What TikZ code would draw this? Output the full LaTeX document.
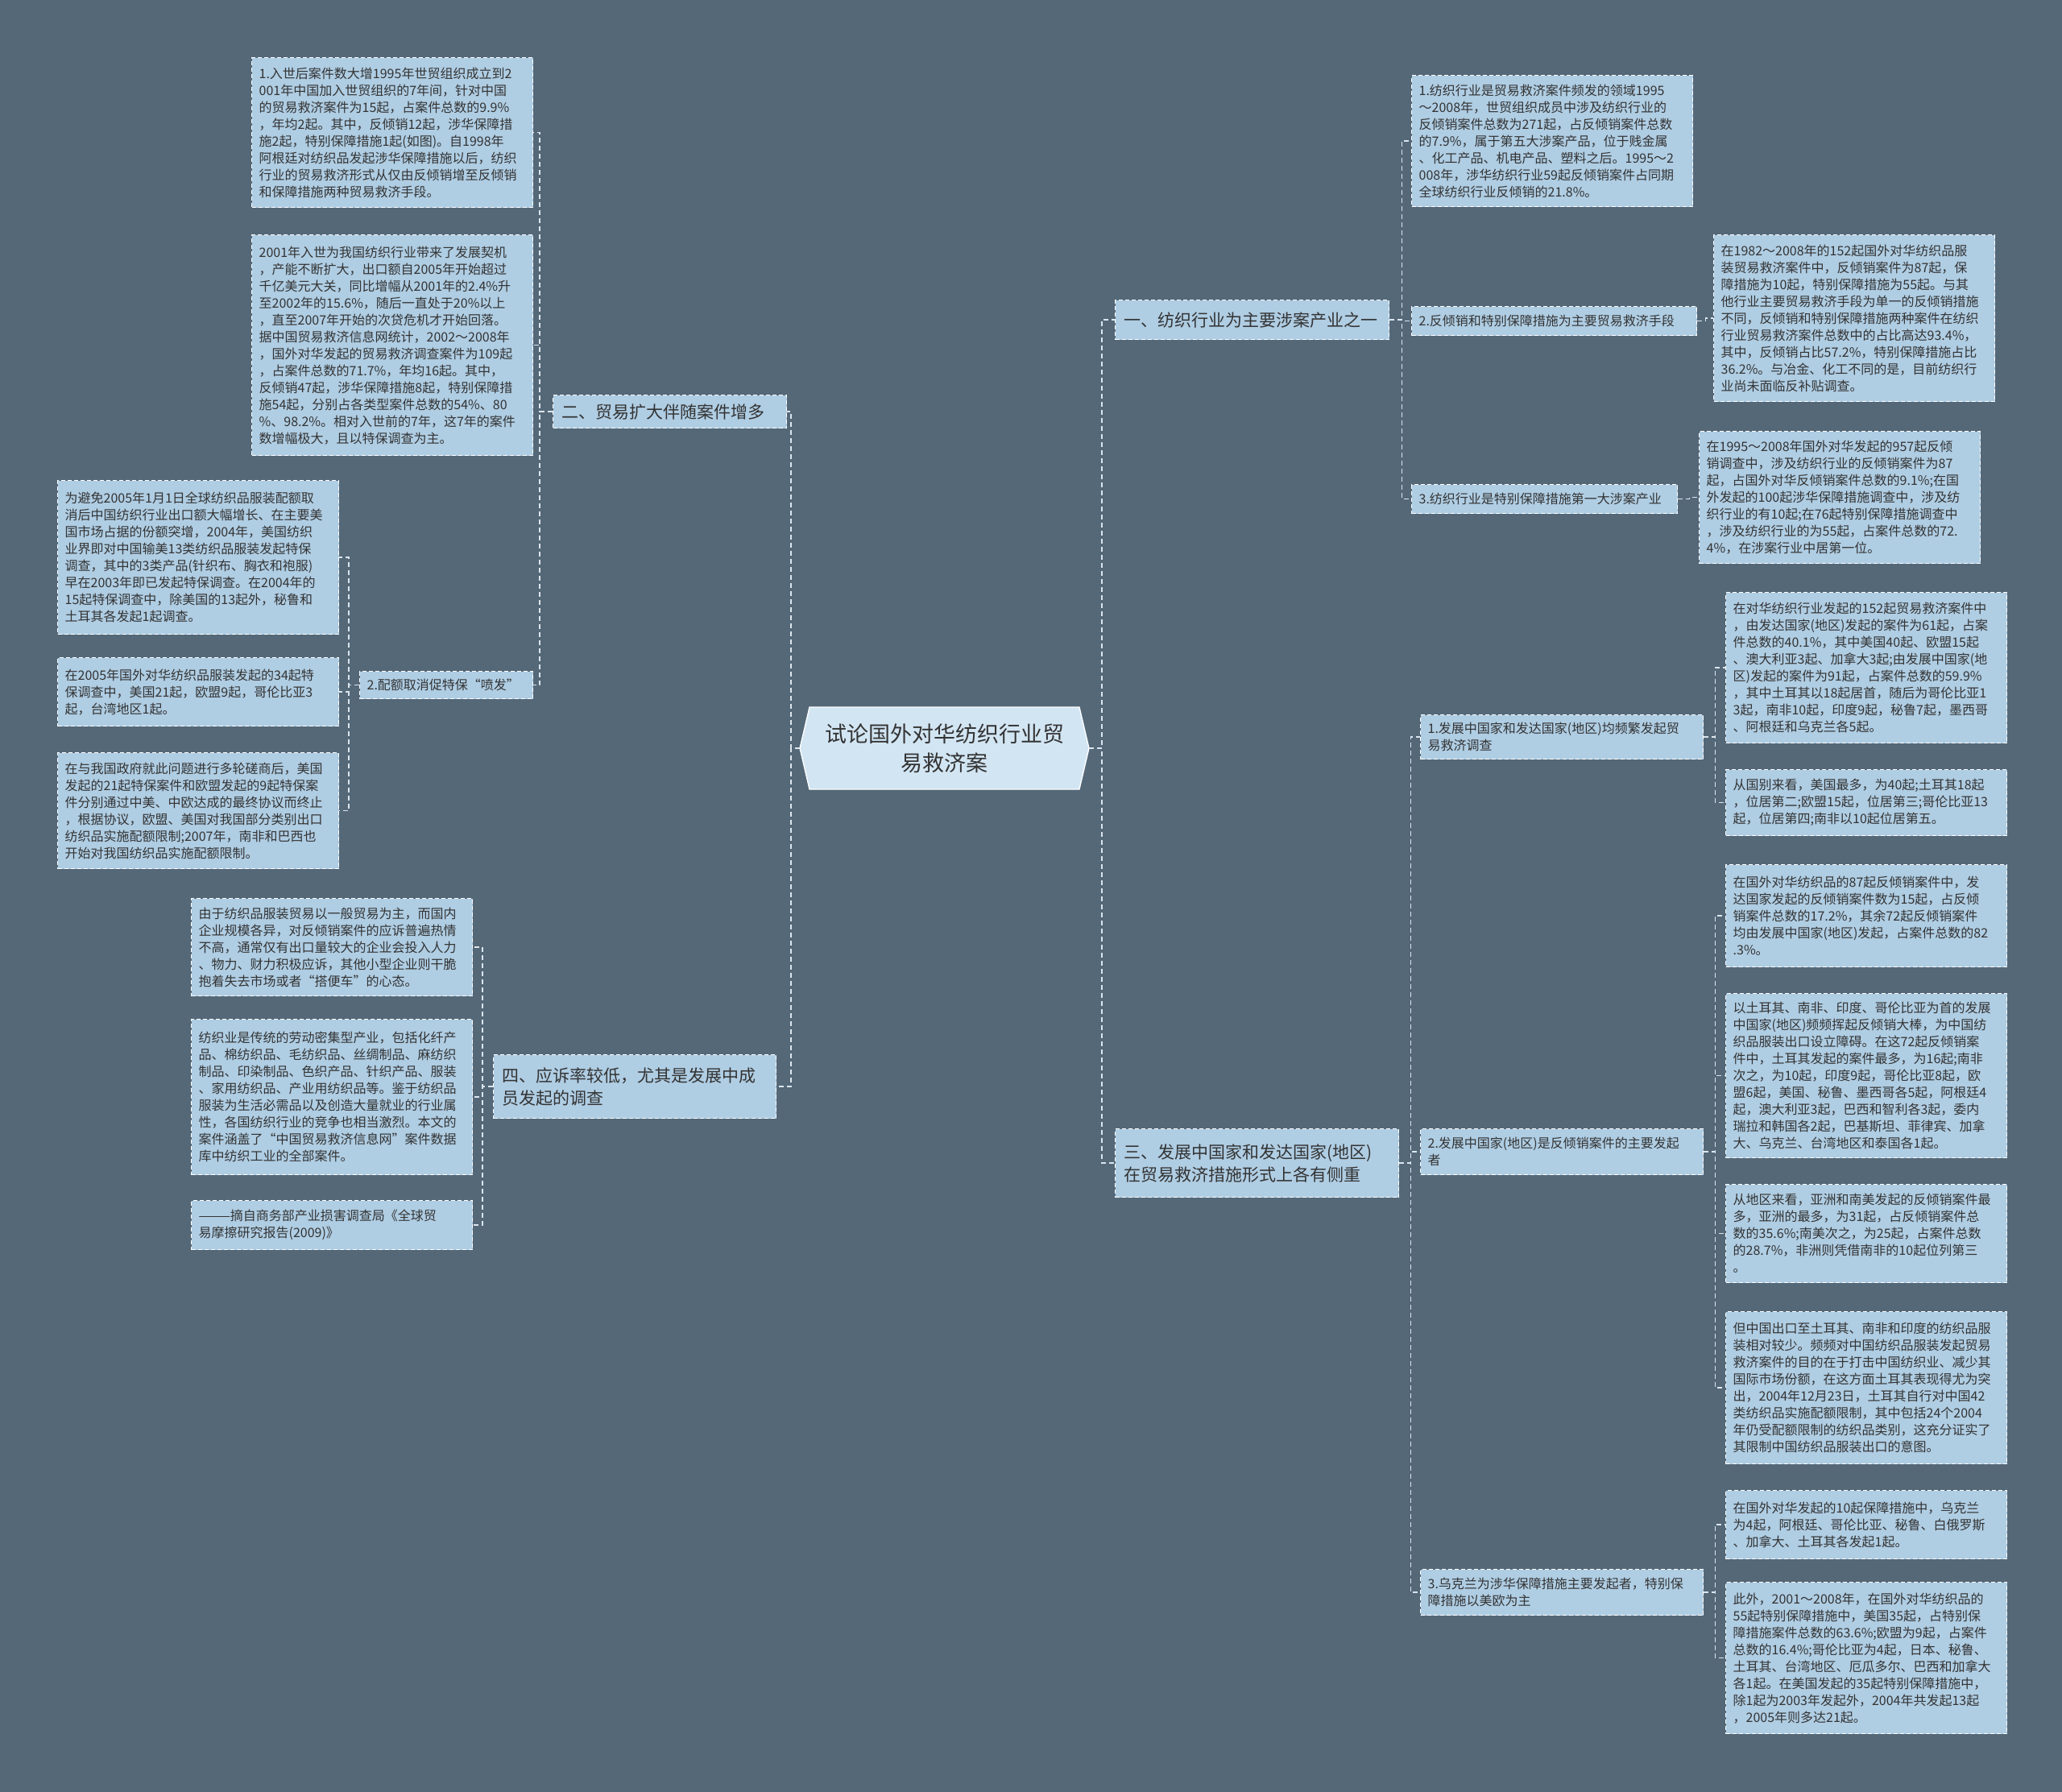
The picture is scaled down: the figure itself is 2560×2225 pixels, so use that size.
\documentclass[tikz,border=0pt]{standalone}
\usepackage{fontspec}
\setmainfont{Noto Sans CJK SC}
\definecolor{bgSlate}{HTML}{546878}
\definecolor{boxBlue}{HTML}{AFCDE3}
\definecolor{rootBlue}{HTML}{D2E5F3}
\definecolor{inkGray}{HTML}{333333}
\definecolor{linkGray}{HTML}{DCE6EE}
\newcommand{\drawLink}[3]{
    \draw[linkline] (#1) -- ([xshift=#3]#1) |- (#2)
}
\tikzset{
    linkline/.style={draw=linkGray, line width=1.5pt, dash pattern=on 6pt off 4pt},
    boxbase/.style={draw=white, fill=boxBlue, text=inkGray, line width=1.3pt, dash pattern=on 5pt off 3pt, anchor=north west, align=left},
    leafnote/.style={boxbase, font=\fontsize{16}{21}\selectfont, inner xsep=9pt, inner ysep=0pt, minimum width=349pt, text width=331pt, minimum height=#1},
    subtopic/.style n args={3}{boxbase, font=\fontsize{16}{21}\selectfont, inner xsep=9pt, inner ysep=0pt, minimum width=#1, text width=#2, minimum height=#3},
    topic/.style n args={3}{boxbase, font=\fontsize{21}{28}\selectfont, inner xsep=11pt, inner ysep=0pt, minimum width=#1, text width=#2, minimum height=#3},
    rootnode/.style={text=inkGray, font=\fontsize{27}{36}\selectfont, align=center, minimum width=359pt, minimum height=102pt}
}
\begin{document}
\begin{tikzpicture}[x=1pt,y=-1pt]
            \useasboundingbox (0,0) rectangle (2560,2225);
            \fill[bgSlate] (0,0) rectangle (2560,2225);

            \filldraw[fill=rootBlue, draw=white, line width=1.3pt] (993,929) -- (1005,878) -- (1340,878) -- (1352,929) -- (1340,980) -- (1005,980) -- cycle;
            \node[rootnode] (root) at (1172.5,929) {试论国外对华纺织行业贸\\易救济案};

            \node[topic={290pt}{268pt}{41pt}] (s2) at (686,490) {二、贸易扩大伴随案件增多};
            \node[topic={351pt}{329pt}{79pt}] (s4) at (612,1309) {四、应诉率较低，尤其是发展中成\\员发起的调查};
            \node[topic={340pt}{318pt}{49pt}] (s1) at (1384,372) {一、纺织行业为主要涉案产业之一};
            \node[topic={352pt}{330pt}{85pt}] (s3) at (1384,1401) {三、发展中国家和发达国家(地区)\\在贸易救济措施形式上各有侧重};

            \node[leafnote=186pt] (s2a) at (312,71) {1.入世后案件数大增1995年世贸组织成立到2\\001年中国加入世贸组织的7年间，针对中国\\的贸易救济案件为15起，占案件总数的9.9\%\\，年均2起。其中，反倾销12起，涉华保障措\\施2起，特别保障措施1起(如图)。自1998年\\阿根廷对纺织品发起涉华保障措施以后，纺织\\行业的贸易救济形式从仅由反倾销增至反倾销\\和保障措施两种贸易救济手段。};
            \node[leafnote=274pt] (s2b) at (312,291) {2001年入世为我国纺织行业带来了发展契机\\，产能不断扩大，出口额自2005年开始超过\\千亿美元大关，同比增幅从2001年的2.4\%升\\至2002年的15.6\%，随后一直处于20\%以上\\，直至2007年开始的次贷危机才开始回落。\\据中国贸易救济信息网统计，2002～2008年\\，国外对华发起的贸易救济调查案件为109起\\，占案件总数的71.7\%，年均16起。其中，\\反倾销47起，涉华保障措施8起，特别保障措\\施54起，分别占各类型案件总数的54\%、80\\\%、98.2\%。相对入世前的7年，这7年的案件\\数增幅极大，且以特保调查为主。};
            \node[subtopic={215pt}{197pt}{34pt}] (s2c) at (446,833) {2.配额取消促特保“喷发”};

            \node[leafnote=191pt] (s2c1) at (71,596) {为避免2005年1月1日全球纺织品服装配额取\\消后中国纺织行业出口额大幅增长、在主要美\\国市场占据的份额突增，2004年，美国纺织\\业界即对中国输美13类纺织品服装发起特保\\调查，其中的3类产品(针织布、胸衣和袍服)\\早在2003年即已发起特保调查。在2004年的\\15起特保调查中，除美国的13起外，秘鲁和\\土耳其各发起1起调查。};
            \node[leafnote=85pt] (s2c2) at (71,816) {在2005年国外对华纺织品服装发起的34起特\\保调查中，美国21起，欧盟9起，哥伦比亚3\\起，台湾地区1起。};
            \node[leafnote=144pt] (s2c3) at (71,934) {在与我国政府就此问题进行多轮磋商后，美国\\发起的21起特保案件和欧盟发起的9起特保案\\件分别通过中美、中欧达成的最终协议而终止\\，根据协议，欧盟、美国对我国部分类别出口\\纺织品实施配额限制;2007年，南非和巴西也\\开始对我国纺织品实施配额限制。};

            \node[leafnote=121pt] (s4a) at (237,1115) {由于纺织品服装贸易以一般贸易为主，而国内\\企业规模各异，对反倾销案件的应诉普遍热情\\不高，通常仅有出口量较大的企业会投入人力\\、物力、财力积极应诉，其他小型企业则干脆\\抱着失去市场或者“搭便车”的心态。};
            \node[leafnote=193pt] (s4b) at (237,1265) {纺织业是传统的劳动密集型产业，包括化纤产\\品、棉纺织品、毛纺织品、丝绸制品、麻纺织\\制品、印染制品、色织产品、针织产品、服装\\、家用纺织品、产业用纺织品等。鉴于纺织品\\服装为生活必需品以及创造大量就业的行业属\\性，各国纺织行业的竞争也相当激烈。本文的\\案件涵盖了“中国贸易救济信息网”案件数据\\库中纺织工业的全部案件。};
            \node[leafnote=61pt] (s4c) at (237,1490) {———摘自商务部产业损害调查局《全球贸\\易摩擦研究报告(2009)》};

            \node[leafnote=163pt] (s1a) at (1752,93) {1.纺织行业是贸易救济案件频发的领域1995\\～2008年，世贸组织成员中涉及纺织行业的\\反倾销案件总数为271起，占反倾销案件总数\\的7.9\%，属于第五大涉案产品，位于贱金属\\、化工产品、机电产品、塑料之后。1995～2\\008年，涉华纺织行业59起反倾销案件占同期\\全球纺织行业反倾销的21.8\%。};
            \node[subtopic={354pt}{336pt}{36pt}] (s1b) at (1752,380) {2.反倾销和特别保障措施为主要贸易救济手段};
            \node[leafnote=207pt] (s1b1) at (2127,291) {在1982～2008年的152起国外对华纺织品服\\装贸易救济案件中，反倾销案件为87起，保\\障措施为10起，特别保障措施为55起。与其\\他行业主要贸易救济手段为单一的反倾销措施\\不同，反倾销和特别保障措施两种案件在纺织\\行业贸易救济案件总数中的占比高达93.4\%，\\其中，反倾销占比57.2\%，特别保障措施占比\\36.2\%。与冶金、化工不同的是，目前纺织行\\业尚未面临反补贴调查。};
            \node[subtopic={330pt}{312pt}{36pt}] (s1c) at (1752,601) {3.纺织行业是特别保障措施第一大涉案产业};
            \node[leafnote=164pt] (s1c1) at (2109,535) {在1995～2008年国外对华发起的957起反倾\\销调查中，涉及纺织行业的反倾销案件为87\\起，占国外对华反倾销案件总数的9.1\%;在国\\外发起的100起涉华保障措施调查中，涉及纺\\织行业的有10起;在76起特别保障措施调查中\\，涉及纺织行业的为55起，占案件总数的72.\\4\%，在涉案行业中居第一位。};

            \node[subtopic={351pt}{333pt}{55pt}] (s3a) at (1763,887) {1.发展中国家和发达国家(地区)均频繁发起贸\\易救济调查};
            \node[leafnote=187pt] (s3a1) at (2142,735) {在对华纺织行业发起的152起贸易救济案件中\\，由发达国家(地区)发起的案件为61起，占案\\件总数的40.1\%，其中美国40起、欧盟15起\\、澳大利亚3起、加拿大3起;由发展中国家(地\\区)发起的案件为91起，占案件总数的59.9\%\\，其中土耳其以18起居首，随后为哥伦比亚1\\3起，南非10起，印度9起，秘鲁7起，墨西哥\\、阿根廷和乌克兰各5起。};
            \node[leafnote=82pt] (s3a2) at (2142,955) {从国别来看，美国最多，为40起;土耳其18起\\，位居第二;欧盟15起，位居第三;哥伦比亚13\\起，位居第四;南非以10起位居第五。};

            \node[subtopic={351pt}{333pt}{57pt}] (s3b) at (1763,1401) {2.发展中国家(地区)是反倾销案件的主要发起\\者};
            \node[leafnote=127pt] (s3b1) at (2142,1073) {在国外对华纺织品的87起反倾销案件中，发\\达国家发起的反倾销案件数为15起，占反倾\\销案件总数的17.2\%，其余72起反倾销案件\\均由发展中国家(地区)发起，占案件总数的82\\.3\%。};
            \node[leafnote=204pt] (s3b2) at (2142,1233) {以土耳其、南非、印度、哥伦比亚为首的发展\\中国家(地区)频频挥起反倾销大棒，为中国纺\\织品服装出口设立障碍。在这72起反倾销案\\件中，土耳其发起的案件最多，为16起;南非\\次之，为10起，印度9起，哥伦比亚8起，欧\\盟6起，美国、秘鲁、墨西哥各5起，阿根廷4\\起，澳大利亚3起，巴西和智利各3起，委内\\瑞拉和韩国各2起，巴基斯坦、菲律宾、加拿\\大、乌克兰、台湾地区和泰国各1起。};
            \node[leafnote=122pt] (s3b3) at (2142,1470) {从地区来看，亚洲和南美发起的反倾销案件最\\多，亚洲的最多，为31起，占反倾销案件总\\数的35.6\%;南美次之，为25起，占案件总数\\的28.7\%，非洲则凭借南非的10起位列第三\\。};
            \node[leafnote=189pt] (s3b4) at (2142,1628) {但中国出口至土耳其、南非和印度的纺织品服\\装相对较少。频频对中国纺织品服装发起贸易\\救济案件的目的在于打击中国纺织业、减少其\\国际市场份额，在这方面土耳其表现得尤为突\\出，2004年12月23日，土耳其自行对中国42\\类纺织品实施配额限制，其中包括24个2004\\年仍受配额限制的纺织品类别，这充分证实了\\其限制中国纺织品服装出口的意图。};

            \node[subtopic={351pt}{333pt}{57pt}] (s3c) at (1763,1948) {3.乌克兰为涉华保障措施主要发起者，特别保\\障措施以美欧为主};
            \node[leafnote=85pt] (s3c1) at (2142,1850) {在国外对华发起的10起保障措施中，乌克兰\\为4起，阿根廷、哥伦比亚、秘鲁、白俄罗斯\\、加拿大、土耳其各发起1起。};
            \node[leafnote=188pt] (s3c2) at (2142,1964) {此外，2001～2008年，在国外对华纺织品的\\55起特别保障措施中，美国35起，占特别保\\障措施案件总数的63.6\%;欧盟为9起，占案件\\总数的16.4\%;哥伦比亚为4起，日本、秘鲁、\\土耳其、台湾地区、厄瓜多尔、巴西和加拿大\\各1起。在美国发起的35起特别保障措施中，\\除1起为2003年发起外，2004年共发起13起\\，2005年则多达21起。};

            \drawLink{root.west}{s2.east}{-11};
            \drawLink{root.west}{s4.east}{-11};
            \drawLink{root.east}{s1.west}{16};
            \drawLink{root.east}{s3.west}{16};

            \drawLink{s2.west}{s2a.east}{-16};
            \drawLink{s2.west}{s2b.east}{-16};
            \drawLink{s2.west}{s2c.east}{-16};
            \drawLink{s2c.west}{s2c1.east}{-13};
            \drawLink{s2c.west}{s2c2.east}{-13};
            \drawLink{s2c.west}{s2c3.east}{-13};

            \drawLink{s4.west}{s4a.east}{-13};
            \drawLink{s4.west}{s4b.east}{-13};
            \drawLink{s4.west}{s4c.east}{-13};

            \drawLink{s1.east}{s1a.west}{15};
            \drawLink{s1.east}{s1b.west}{15};
            \drawLink{s1.east}{s1c.west}{15};
            \drawLink{s1b.east}{s1b1.west}{10};
            \drawLink{s1c.east}{s1c1.west}{14};

            \drawLink{s3.east}{s3a.west}{14};
            \drawLink{s3.east}{s3b.west}{14};
            \drawLink{s3.east}{s3c.west}{14};
            \drawLink{s3a.east}{s3a1.west}{14};
            \drawLink{s3a.east}{s3a2.west}{14};
            \drawLink{s3b.east}{s3b1.west}{14};
            \drawLink{s3b.east}{s3b2.west}{14};
            \drawLink{s3b.east}{s3b3.west}{14};
            \drawLink{s3b.east}{s3b4.west}{14};
            \drawLink{s3c.east}{s3c1.west}{14};
            \drawLink{s3c.east}{s3c2.west}{14};
\end{tikzpicture}
\end{document}
